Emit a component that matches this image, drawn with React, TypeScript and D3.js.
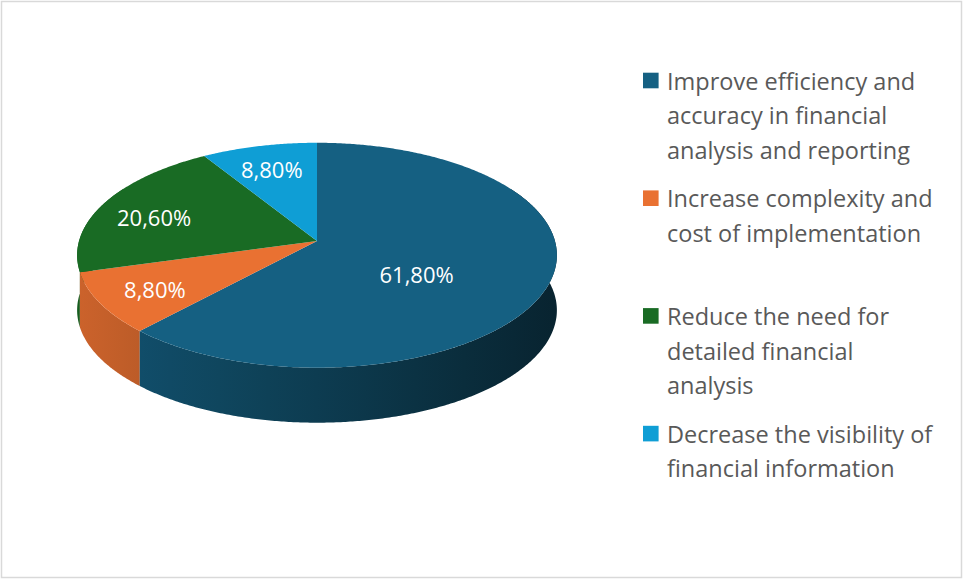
import React from "react";
import * as d3 from "d3";

const categories = [
  "Improve efficiency and accuracy in financial analysis and reporting",
  "Increase complexity and cost of implementation",
  "Reduce the need for detailed financial analysis",
  "Decrease the visibility of financial information",
];
const values = [61.8, 8.8, 20.6, 8.8];
const legendLines = [
  ["Improve efficiency and", "accuracy in financial", "analysis and reporting"],
  ["Increase complexity and", "cost of implementation"],
  ["Reduce the need for", "detailed financial", "analysis"],
  ["Decrease the visibility of", "financial information"],
];
const colors = ["#156082", "#E97132", "#196B24", "#0F9ED5"];

const W = 964;
const H = 579;
// 3D perspective pie parameters
const CX = 317;
const CY = 241;
const R = 0.143;
const F = 1664;
const SA = 0.465;
const CA = Math.sqrt(1 - SA * SA);
const DEPTH_PX = 55;

function project(X: number, Z: number): [number, number] {
  const yc = Z * SA;
  const d = 1 - Z * CA;
  return [CX + (F * X) / d, CY + (F * yc) / d];
}
function rimPoint(theta: number, r = R): [number, number] {
  return project(r * Math.sin(theta), -r * Math.cos(theta));
}

const locale = d3.formatLocale({
  decimal: ",",
  thousands: ".",
  grouping: [3],
  currency: ["", ""],
});
const fmt = locale.format(".2f");

function shade(color: string, k: number) {
  const c = d3.rgb(color);
  return d3.rgb(c.r * k, c.g * k, c.b * k).formatHex();
}

export default function App() {
  const pie = d3.pie<number>().sort(null).value((d) => d);
  const arcs = pie(values);
  const step = (Math.PI / 180) * 0.5;
  const line = d3.line();
  const total = d3.sum(values);

  const lo = (60 * Math.PI) / 180;
  const hi = (300 * Math.PI) / 180;
  const shadeX = d3.scaleLinear().domain([CX - 245, CX, CX + 245]).range([0.88, 0.62, 0.36]);

  const walls = arcs
    .map((a, i) => {
      const s = Math.max(a.startAngle, lo);
      const e = Math.min(a.endAngle, hi);
      if (e <= s) return null;
      const n = Math.max(2, Math.ceil((e - s) / step));
      const th = d3.scaleLinear().domain([0, n]).range([s, e]);
      const top: [number, number][] = d3.range(n + 1).map((j) => rimPoint(th(j)));
      const bottom = top.map((p) => [p[0], p[1] + DEPTH_PX] as [number, number]).reverse();
      const mid = (s + e) / 2;
      return {
        i,
        d: (line([...top, ...bottom]) as string) + "Z",
        z: -Math.cos(mid),
      };
    })
    .filter((w) => w !== null) as { i: number; d: string; z: number }[];
  walls.sort((a, b) => a.z - b.z);

  const tops = arcs.map((a, i) => {
    const n = Math.max(2, Math.ceil((a.endAngle - a.startAngle) / step));
    const th = d3.scaleLinear().domain([0, n]).range([a.startAngle, a.endAngle]);
    const pts: [number, number][] = [project(0, 0)];
    for (let j = 0; j <= n; j++) pts.push(rimPoint(th(j)));
    const centroid = d3.polygonCentroid(pts);
    // label: x along the mid angle inside the slice, y from the face centroid
    const midA = (a.startAngle + a.endAngle) / 2;
    const p = values[i] / total > 0.5 ? 0.44 : 0.76;
    const lp = rimPoint(midA, R * p);
    const ly = CY + 1.15 * (centroid[1] - CY);
    return { d: (line(pts) as string) + "Z", fill: colors[i], label: [lp[0], ly] };
  });

  const gradStops = d3.range(0, 1.0001, 0.1);
  const legendX = 643;
  const legendTop = 80.5;
  const legendStep = 117.7;
  const lineH = 34.7;

  return (
    <svg
      width={W}
      height={H}
      style={{ position: "fixed", left: 0, top: 0, background: "#fff" }}
      fontFamily="'Open Sans', 'Noto Sans', sans-serif"
    >
      <defs>
        {colors.map((c, i) => (
          <linearGradient
            key={i}
            id={`wall${i}`}
            gradientUnits="userSpaceOnUse"
            x1={CX - 245}
            x2={CX + 245}
            y1={0}
            y2={0}
          >
            {gradStops.map((t, j) => (
              <stop
                key={j}
                offset={t}
                stopColor={shade(c, shadeX(CX - 245 + t * 490))}
              />
            ))}
          </linearGradient>
        ))}
      </defs>
      <rect x={0} y={0} width={W} height={H} fill="#fff" />
      <rect x={1.5} y={1.5} width={960} height={576} fill="none" stroke="#d9d9d9" strokeWidth={1.5} />
      <g>
        {walls.map((w) => (
          <path key={w.i} d={w.d} fill={`url(#wall${w.i})`} />
        ))}
      </g>
      <g>
        {tops.map((t, i) => (
          <path key={i} d={t.d} fill={t.fill} />
        ))}
      </g>
      <g>
        {tops.map((t, i) => (
          <text
            key={i}
            x={t.label[0]}
            y={t.label[1]}
            textAnchor="middle"
            dominantBaseline="central"
            fill="#ffffff"
            fontSize={22}
          >
            {fmt(values[i]) + "%"}
          </text>
        ))}
      </g>
      <g>
        {legendLines.map((lines, i) => {
          const cy = legendTop + i * legendStep;
          return (
            <g key={i}>
              <title>{categories[i]}</title>
              <rect x={legendX} y={cy - 7.8} width={15.6} height={15.6} fill={colors[i]} />
              {lines.map((ln, j) => (
                <text
                  key={j}
                  x={legendX + 24}
                  y={cy + j * lineH}
                  dominantBaseline="central"
                  fill="#595959"
                  fontSize={23.5}
                >
                  {ln}
                </text>
              ))}
            </g>
          );
        })}
      </g>
    </svg>
  );
}
